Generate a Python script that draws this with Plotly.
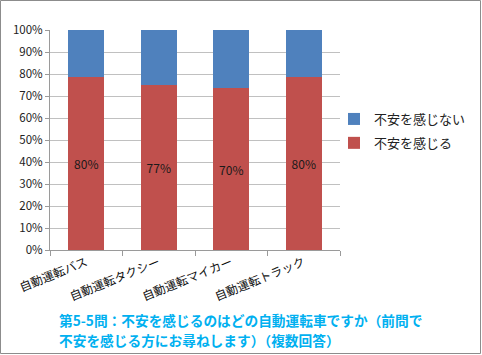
import plotly.graph_objects as go

categories = ["自動運転バス", "自動運転タクシー", "自動運転マイカー", "自動運転トラック"]
anxious = [80, 77, 70, 80]           # 不安を感じる (labelled values)
not_anxious = [21.5, 25.7, 25.1, 21.5]  # 不安を感じない
anxious_labels = [f"{v}%" for v in anxious]
y_ticks = list(range(0, 101, 10))
y_tick_labels = [f"{v}%" for v in y_ticks]

FONT = "Noto Sans CJK JP, Liberation Sans, sans-serif"
W, H = 482, 355
L, R, T, B = 50, 142, 30, 105
pw, ph = W - L - R, H - T - B

fig = go.Figure()
fig.add_trace(go.Bar(
    x=categories, y=anxious, name="不安を感じる", legendgroup="a", legendrank=2,
    marker=dict(color="#C0504D", line=dict(width=0)),
    text=anxious_labels, textposition="inside", insidetextanchor="middle",
    textfont=dict(color="#1a1a1a", size=12, family=FONT),
    hoverinfo="skip",
))
fig.add_trace(go.Bar(
    x=categories, y=not_anxious, name="不安を感じない", legendgroup="b", legendrank=1,
    marker=dict(color="#4F81BD", line=dict(width=0)),
    hoverinfo="skip",
))

def px_x(p):
    return (p - L) / pw

def px_y(p):
    return (H - B - p) / ph

fig.update_layout(
    width=W, height=H,
    margin=dict(l=L, r=R, t=T, b=B, autoexpand=False),
    barmode="stack", barnorm="percent", bargap=0.51,
    paper_bgcolor="white", plot_bgcolor="white",
    font=dict(family=FONT, size=12, color="#222"),
    showlegend=True,
    legend=dict(
        x=px_x(334), y=px_y(104), xanchor="left", yanchor="top",
        traceorder="grouped", font=dict(size=13, color="#222"),
        itemwidth=30, tracegroupgap=4, bgcolor="rgba(0,0,0,0)",
    ),
    xaxis=dict(
        tickangle=-22, showline=True, linecolor="#9a9a9a", linewidth=1,
        ticks="outside", tickson="boundaries", ticklen=5, tickcolor="#9a9a9a",
        tickfont=dict(size=12, color="#111"), showgrid=False, automargin=False,
    ),
    yaxis=dict(
        range=[0, 100], tickmode="array", tickvals=y_ticks, ticktext=y_tick_labels,
        showgrid=True, gridcolor="#c0c0c0", gridwidth=1,
        showline=True, linecolor="#9a9a9a", linewidth=1,
        ticks="outside", ticklen=4, tickcolor="#9a9a9a",
        tickfont=dict(size=11.5, color="#222"), zeroline=False, automargin=False,
    ),
    shapes=[dict(
        type="rect", xref="paper", yref="paper",
        x0=px_x(0.5), x1=px_x(W - 1.5), y0=px_y(H - 1.5), y1=px_y(0.5),
        line=dict(color="#8c8c8c", width=1), layer="above",
    )],
    annotations=[
        dict(text="<b>第5-5問：不安を感じるのはどの自動運転車ですか（前問で</b>",
             xref="paper", yref="paper", x=px_x(57), y=px_y(320),
             xanchor="left", yanchor="middle", showarrow=False,
             font=dict(size=13.7, color="#00B0F0", family=FONT)),
        dict(text="<b>不安を感じる方にお尋ねします）（複数回答）</b>",
             xref="paper", yref="paper", x=px_x(57), y=px_y(340),
             xanchor="left", yanchor="middle", showarrow=False,
             font=dict(size=13.7, color="#00B0F0", family=FONT)),
    ],
)

fig.write_html(
    "out.html",
    config={"displayModeBar": False},
    post_script="document.body.style.margin='0';document.body.style.overflow='hidden';",
)
